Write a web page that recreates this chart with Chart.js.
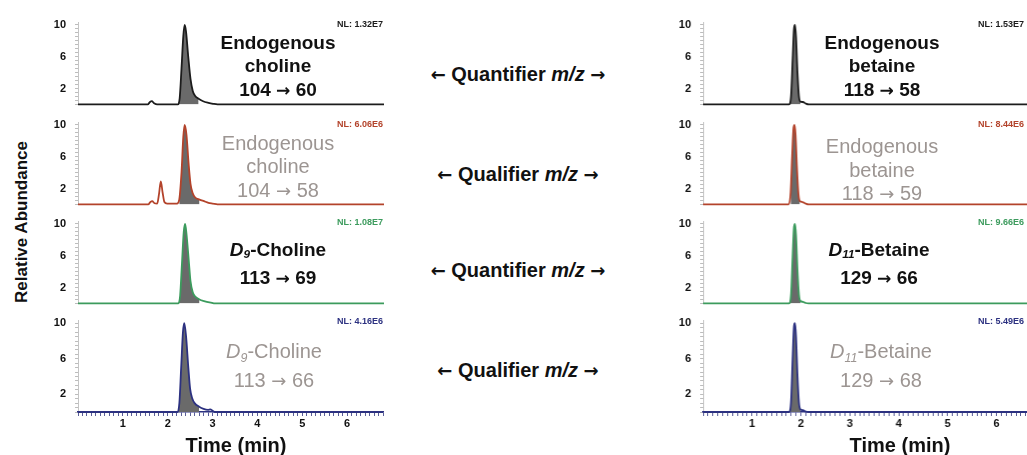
<!DOCTYPE html>
<html><head><meta charset="utf-8">
<script src="https://cdn.jsdelivr.net/npm/chart.js@4.4.0/dist/chart.umd.min.js"></script>
<style>
html,body{margin:0;padding:0;background:#fff;width:1027px;height:455px;overflow:hidden;position:relative;font-family:"Liberation Sans",Arial,sans-serif;}
.lbl{position:absolute;transform:translate(-50%,-50%);text-align:center;white-space:nowrap;}
.blk{font-weight:bold;font-size:19px;line-height:23.5px;color:#111;}
.gry{font-weight:normal;font-size:20px;line-height:23.5px;color:#9c9592;}
.mid{font-weight:bold;font-size:20px;color:#111;}
.nl{position:absolute;font-weight:bold;font-size:9px;white-space:nowrap;transform:translateY(-50%);}
.sub{font-size:62%;vertical-align:-0.25em;}
.ar{font-family:"DejaVu Sans",sans-serif;font-weight:bold;font-size:90%;}
.gry .ar{font-weight:normal;}
</style></head><body>
<div id="charts"></div>

<div class="lbl" style="left:22px;top:222px;transform:translate(-50%,-50%) rotate(-90deg);font-weight:bold;font-size:17px;color:#111;">Relative Abundance</div>

<div class="lbl blk" style="left:278px;top:66.5px;">Endogenous<br>choline<br>104 <span class="ar">→</span> 60</div>
<div class="lbl gry" style="left:278px;top:166.5px;">Endogenous<br>choline<br>104 <span class="ar">→</span> 58</div>
<div class="lbl blk" style="left:278px;top:263.5px;"><i>D</i><i class="sub">9</i>-Choline<br>113 <span class="ar">→</span> 69</div>
<div class="lbl gry" style="left:274px;top:366.5px;"><i>D</i><i class="sub">9</i>-Choline<br>113 <span class="ar">→</span> 66</div>

<div class="lbl blk" style="left:882px;top:66.5px;">Endogenous<br>betaine<br>118 <span class="ar">→</span> 58</div>
<div class="lbl gry" style="left:882px;top:170px;">Endogenous<br>betaine<br>118 <span class="ar">→</span> 59</div>
<div class="lbl blk" style="left:879px;top:263.5px;"><i>D</i><i class="sub">11</i>-Betaine<br>129 <span class="ar">→</span> 66</div>
<div class="lbl gry" style="left:881px;top:366.5px;"><i>D</i><i class="sub">11</i>-Betaine<br>129 <span class="ar">→</span> 68</div>

<div class="lbl mid" style="left:518px;top:74px;"><span class="ar">←</span> Quantifier <i>m/z</i> <span class="ar">→</span></div>
<div class="lbl mid" style="left:518px;top:174px;"><span class="ar">←</span> Qualifier <i>m/z</i> <span class="ar">→</span></div>
<div class="lbl mid" style="left:518px;top:270px;"><span class="ar">←</span> Quantifier <i>m/z</i> <span class="ar">→</span></div>
<div class="lbl mid" style="left:518px;top:370px;"><span class="ar">←</span> Qualifier <i>m/z</i> <span class="ar">→</span></div>

<div class="lbl" style="left:236px;top:445px;font-weight:bold;font-size:20px;color:#111;">Time (min)</div>
<div class="lbl" style="left:900px;top:445px;font-weight:bold;font-size:20px;color:#111;">Time (min)</div>

<script>
// ---------------- data ----------------
const timeMax = 6.8;
const yTickValues = [10, 6, 2];
const yTickLabels = ['10', '6', '2'];
const xTickValues = [1, 2, 3, 4, 5, 6];
const xTickLabels = ['1', '2', '3', '4', '5', '6'];

const panelNames = ['Endogenous choline 104→60', 'Endogenous choline 104→58', 'D9-Choline 113→69', 'D9-Choline 113→66',
                    'Endogenous betaine 118→58', 'Endogenous betaine 118→59', 'D11-Betaine 129→66', 'D11-Betaine 129→68'];
const nlLabels = ['NL: 1.32E7', 'NL: 6.06E6', 'NL: 1.08E7', 'NL: 4.16E6',
                  'NL: 1.53E7', 'NL: 8.44E6', 'NL: 9.66E6', 'NL: 5.49E6'];

// [time (min), relative abundance]
const cholineQuant = [[0,0],[1.55,0],[1.6,0.3],[1.64,0.4],[1.69,0.15],[1.76,0],[2.22,0],[2.26,0.8],[2.3,4.5],[2.34,8.6],[2.37,10],[2.4,9.2],[2.45,6],[2.5,3.2],[2.55,1.7],[2.6,1.1],[2.68,0.7],[2.78,0.4],[2.9,0.2],[3.0,0.08],[3.1,0],[6.8,0]];
const cholineQual  = [[0,0],[1.56,0],[1.61,0.3],[1.65,0.4],[1.7,0.15],[1.76,0.1],[1.8,1.3],[1.84,2.9],[1.88,1.5],[1.92,0.3],[1.98,0.1],[2.2,0.1],[2.25,0.6],[2.3,4],[2.34,8.5],[2.37,10],[2.41,8.8],[2.46,5],[2.5,2.6],[2.55,1.4],[2.6,0.9],[2.7,0.6],[2.8,0.4],[2.9,0.2],[3.0,0.1],[3.1,0],[6.8,0]];
const d9Quant      = [[0,0],[2.23,0],[2.27,1],[2.31,5],[2.35,9],[2.38,10],[2.41,8.8],[2.46,5.5],[2.5,2.8],[2.55,1.4],[2.6,0.9],[2.7,0.5],[2.8,0.3],[2.95,0.1],[3.05,0],[6.8,0]];
const d9Qual       = [[0,0],[2.22,0],[2.26,1],[2.3,5],[2.34,9],[2.37,10],[2.41,8.5],[2.46,5],[2.5,2.6],[2.55,1.5],[2.6,1.0],[2.7,0.6],[2.8,0.35],[2.9,0.25],[2.95,0.3],[3.0,0.15],[3.05,0],[6.8,0]];
const betaineQuant = [[0,0],[1.76,0],[1.8,1.2],[1.83,5.5],[1.86,9.6],[1.88,10],[1.9,8.5],[1.93,4],[1.96,1],[1.99,0.35],[2.04,0.3],[2.1,0.1],[2.16,0],[6.8,0]];
const betaineQual  = [[0,0],[1.75,0],[1.79,1.5],[1.82,6],[1.85,9.7],[1.87,10],[1.89,8.8],[1.92,4.5],[1.95,1.3],[1.98,0.4],[2.03,0.3],[2.1,0.1],[2.15,0],[6.8,0]];
const d11Quant     = [[0,0],[1.76,0],[1.8,1.3],[1.83,5.8],[1.86,9.7],[1.88,10],[1.9,8.6],[1.93,4.2],[1.96,1.1],[1.99,0.3],[2.04,0.2],[2.1,0.05],[2.15,0],[6.8,0]];
const d11Qual      = [[0,0],[1.76,0],[1.8,1.3],[1.83,5.8],[1.86,9.7],[1.88,10],[1.9,8.6],[1.93,4.2],[1.96,1.1],[1.99,0.3],[2.04,0.2],[2.1,0.05],[2.15,0],[6.8,0]];

// integration window (min) of the shaded peak
const cholineWindow = [2.22, 2.7];
const betaineWindow = [1.76, 1.99];

// ---------------- layout ----------------
const columns = [{axisX: 78, ppm: 45, nlX: 383, nlAlign: 'right'}, {axisX: 703, ppm: 48.9, nlX: 978, nlAlign: 'left'}];
const rowY10 = [20, 119.5, 219, 318];
const nlY = [23.5, 123.5, 222, 320.5];
const traceColors = ['#1c1c1c', '#b3432b', '#3c9b5d', '#2c3180'];
const YMAX = 10.3, AREA_H = 97, YW = 40, PT = 10;

const panels = [
  {col:0,row:0,trace:cholineQuant,win:cholineWindow},
  {col:0,row:1,trace:cholineQual,win:cholineWindow},
  {col:0,row:2,trace:d9Quant,win:cholineWindow},
  {col:0,row:3,trace:d9Qual,win:cholineWindow},
  {col:1,row:0,trace:betaineQuant,win:betaineWindow},
  {col:1,row:1,trace:betaineQual,win:betaineWindow},
  {col:1,row:2,trace:d11Quant,win:betaineWindow},
  {col:1,row:3,trace:d11Qual,win:betaineWindow},
];

panels.forEach((p, idx) => {
  const col = columns[p.col];
  const isBottom = p.row === 3;
  const XH = isBottom ? 22 : 6;
  const areaW = timeMax * col.ppm;
  const areaTop = rowY10[p.row] - (YMAX - 10) * AREA_H / YMAX;
  const color = traceColors[p.row];
  const div = document.createElement('div');
  div.style.cssText = `position:absolute;left:${col.axisX - YW}px;top:${areaTop - PT}px;width:${YW + areaW}px;height:${PT + AREA_H + XH}px;`;
  const cv = document.createElement('canvas');
  div.appendChild(cv);
  document.getElementById('charts').appendChild(div);

  const pts = p.trace.map(([x, y]) => ({x, y}));
  const fillPts = pts.filter(q => q.x >= p.win[0] && q.x <= p.win[1]);

  new Chart(cv, {
    type: 'line',
    data: {datasets: [
      {label: panelNames[idx], data: pts, borderColor: color, borderWidth: 1.8, pointRadius: 0, fill: false,
       cubicInterpolationMode: 'monotone', order: 0, clip: false},
      {label: panelNames[idx] + ' area', data: fillPts, borderWidth: 0, borderColor: 'rgba(0,0,0,0)', backgroundColor: '#6a6a6a',
       pointRadius: 0, fill: 'origin', cubicInterpolationMode: 'monotone', order: 1}
    ]},
    options: {
      responsive: true, maintainAspectRatio: false, animation: false, events: [],
      layout: {padding: {top: PT, bottom: isBottom ? 0 : XH, left: 0, right: 0}},
      plugins: {legend: {display: false}, tooltip: {enabled: false}},
      scales: {
        x: {
          type: 'linear', min: 0, max: timeMax, display: isBottom,
          afterFit: s => { s.height = XH; },
          afterBuildTicks: s => { const t = []; for (let k = 0; k <= Math.round(timeMax * 10); k++) t.push({value: k / 10}); s.ticks = t; },
          ticks: {autoSkip: false, maxRotation: 0, padding: 1, color: '#111', font: {family: 'Liberation Sans', weight: 'bold', size: 11},
                  callback: v => { const i = xTickValues.findIndex(t => Math.abs(t - v) < 1e-6); return i >= 0 ? xTickLabels[i] : ''; }},
          grid: {drawOnChartArea: false, tickLength: 4, color: '#5a5e98', lineWidth: 1},
          border: {display: true, color: color, width: 1.5}
        },
        y: {
          min: 0, max: YMAX,
          afterFit: s => { s.width = YW; },
          afterBuildTicks: s => { const t = []; for (let k = 0; k <= 20; k++) t.push({value: k / 2}); s.ticks = t; },
          ticks: {autoSkip: false, padding: 9, color: '#111', font: {family: 'Liberation Sans', weight: 'bold', size: 11},
                  callback: v => { const i = yTickValues.indexOf(v); return i >= 0 ? yTickLabels[i] : ''; }},
          grid: {drawOnChartArea: false, tickLength: 3, color: '#bdbdbd', lineWidth: 1},
          border: {display: true, color: '#c4c4c4', width: 1}
        }
      }
    }
  });

  const nl = document.createElement('div');
  nl.className = 'nl';
  nl.textContent = nlLabels[idx];
  nl.style.color = color;
  nl.style.top = nlY[p.row] + 'px';
  if (col.nlAlign === 'right') { nl.style.right = (1027 - col.nlX) + 'px'; }
  else { nl.style.left = col.nlX + 'px'; }
  document.body.appendChild(nl);
});
</script>
</body></html>
